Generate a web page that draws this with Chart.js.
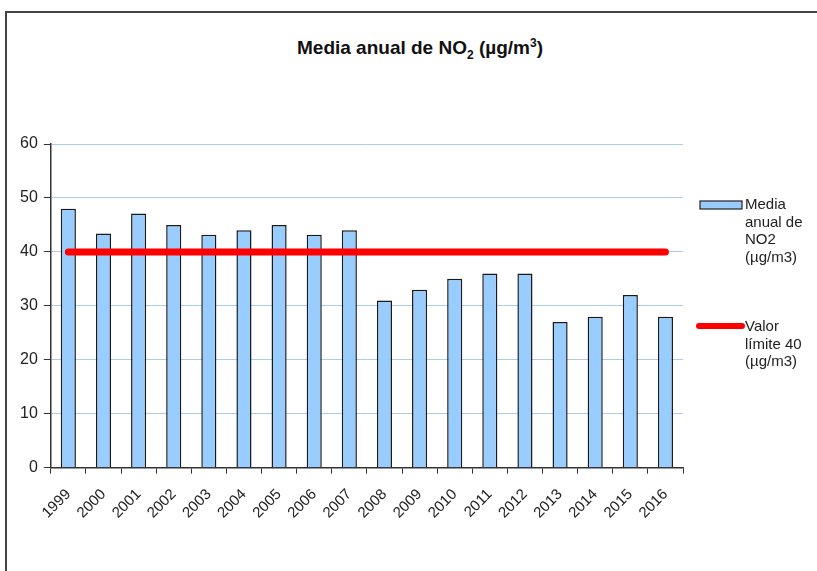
<!DOCTYPE html>
<html>
<head>
<meta charset="utf-8">
<script src="https://cdn.jsdelivr.net/npm/chart.js@4/dist/chart.umd.min.js"></script>
<style>
    html, body { margin: 0; padding: 0; background: #fff; overflow: hidden; }
    #wrap { position: relative; width: 817px; height: 571px; }
    #frame {
        position: absolute; left: 5px; top: 11px; width: 830px; height: 580px;
        border-top: 2px solid #444; border-left: 2px solid #444;
    }
    #title {
        position: absolute; left: 0; width: 840px; top: 37px; text-align: center;
        font: bold 19px "Liberation Sans", Arial, sans-serif; color: #111;
    }
    #title sub, #title sup { font-size: 12px; line-height: 0; }
    canvas { position: absolute; left: 0; top: 0; }
</style>
</head>
<body>
<div id="wrap">
    <div id="frame"></div>
    <div id="title">Media anual de NO<sub>2</sub> (µg/m<sup>3</sup>)</div>
    <canvas id="no2-chart" width="817" height="571"></canvas>
</div>
<script>
const years = ['1999', '2000', '2001', '2002', '2003', '2004', '2005', '2006', '2007',
    '2008', '2009', '2010', '2011', '2012', '2013', '2014', '2015', '2016'];
const mediaAnual = [48, 43.4, 47.1, 45, 43.2, 44, 45, 43.2, 44,
    31, 33, 35, 36, 36, 27, 28, 32, 28];
const valorLimite = [40, 40, 40, 40, 40, 40, 40, 40, 40,
    40, 40, 40, 40, 40, 40, 40, 40, 40];
const yTicks = [0, 10, 20, 30, 40, 50, 60];
const barLegend = ['Media', 'anual de', 'NO2', '(µg/m3)'];
const lineLegend = ['Valor', 'límite 40', '(µg/m3)'];

const FONT = '"Liberation Sans", Arial, sans-serif';

// legend on the right, multi-line labels
const sideLegend = {
    id: 'sideLegend',
    afterDraw(chart) {
        const c = chart.ctx;
        const area = chart.chartArea;
        const x0 = area.right + 17;
        c.save();
        c.font = '15px ' + FONT;
        c.fillStyle = '#222';
        c.textBaseline = 'middle';

        // bar item
        const by = area.top + 57;
        c.fillStyle = '#99ccff';
        c.fillRect(x0, by, 42, 8);
        c.strokeStyle = '#222';
        c.lineWidth = 1.2;
        c.strokeRect(x0, by, 42, 8);
        c.fillStyle = '#222';
        barLegend.forEach((t, i) => c.fillText(t, x0 + 45, by + 4 + i * 17.5));

        // line item
        const ly = area.top + 182;
        c.strokeStyle = '#ff0000';
        c.lineWidth = 6;
        c.lineCap = 'round';
        c.beginPath();
        c.moveTo(x0 - 1, ly);
        c.lineTo(x0 + 42, ly);
        c.stroke();
        lineLegend.forEach((t, i) => c.fillText(t, x0 + 45, ly + 1 + i * 17.5));
        c.restore();
    }
};

new Chart(document.getElementById('no2-chart').getContext('2d'), {
    type: 'bar',
    data: {
        labels: years,
        datasets: [
            {
                type: 'line',
                label: lineLegend.join(' '),
                data: valorLimite,
                borderColor: '#ff0000',
                borderWidth: 7,
                borderCapStyle: 'round',
                pointRadius: 0,
                fill: false,
                order: 0,
            },
            {
                label: barLegend.join(' '),
                data: mediaAnual,
                backgroundColor: '#99ccff',
                borderColor: '#1a1a1a',
                borderWidth: 1.5,
                barPercentage: 0.43,
                categoryPercentage: 1,
                order: 1,
            }
        ]
    },
    options: {
        responsive: false,
        animation: false,
        layout: { padding: { left: 14, right: 134, top: 144, bottom: 37 } },
        scales: {
            x: {
                grid: {
                    drawOnChartArea: false,
                    tickColor: '#333',
                    tickLength: 6,
                },
                border: { color: '#333', width: 1.5 },
                ticks: {
                    color: '#222',
                    font: { family: FONT, size: 15 },
                    maxRotation: 45,
                    minRotation: 45,
                    padding: 12,
                }
            },
            y: {
                min: 0,
                max: 60,
                afterBuildTicks: axis => { axis.ticks = yTicks.map(v => ({ value: v })); },
                grid: {
                    color: ctx => ctx.tick && ctx.tick.value === 0 ? 'rgba(0,0,0,0)' : '#a9cdea',
                    tickColor: '#333',
                    tickLength: 7,
                    lineWidth: 1,
                },
                border: { color: '#333', width: 1.5 },
                ticks: {
                    color: '#222',
                    font: { family: FONT, size: 16 },
                    padding: 6,
                }
            }
        },
        plugins: {
            legend: { display: false },
            tooltip: { enabled: false },
        }
    },
    plugins: [sideLegend]
});
</script>
</body>
</html>
